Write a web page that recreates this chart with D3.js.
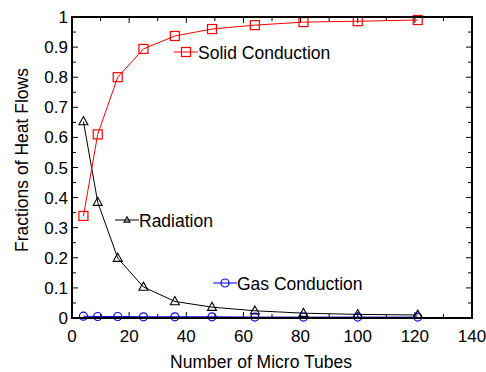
<!DOCTYPE html>
<html>
<head>
<meta charset="utf-8">
<script src="https://cdn.jsdelivr.net/npm/d3@7"></script>
<style>
  body { margin: 0; background: #fff; }
  svg { display: block; font-family: Arial, "Liberation Sans", sans-serif; }
</style>
</head>
<body>
<div id="chart"></div>
<script>
// number of micro tubes (same for every series)
const tubes = [4, 9, 16, 25, 36, 49, 64, 81, 100, 121];
const solidConduction = [0.339, 0.61, 0.80, 0.894, 0.937, 0.96, 0.973, 0.983, 0.986, 0.99];
const radiation = [0.653, 0.385, 0.199, 0.103, 0.055, 0.036, 0.024, 0.016, 0.012, 0.010];
const gasConduction = [0.006, 0.005, 0.005, 0.004, 0.004, 0.004, 0.003, 0.003, 0.003, 0.003];
const xTicks = [0, 20, 40, 60, 80, 100, 120, 140];
const yTicks = [0, 0.1, 0.2, 0.3, 0.4, 0.5, 0.6, 0.7, 0.8, 0.9, 1];

const width = 486, height = 372;
const margin = {top: 17, right: 14, bottom: 54, left: 72};

const svg = d3.select("#chart").append("svg")
    .attr("width", width)
    .attr("height", height);

const x = d3.scaleLinear().domain([0, 140]).range([margin.left, width - margin.right]);
const y = d3.scaleLinear().domain([0, 1]).range([height - margin.bottom, margin.top]);

// ticks all around, pointing inwards
const minorX = d3.range(0, 141, 10), minorY = d3.range(0, 1.001, 0.05);
const g = svg.append("g").attr("stroke", "#000").attr("stroke-width", 1);
minorX.forEach(v => {
    const len = v % 20 === 0 ? 6 : 4;
    g.append("line").attr("x1", x(v)).attr("x2", x(v)).attr("y1", y(0)).attr("y2", y(0) - len);
    g.append("line").attr("x1", x(v)).attr("x2", x(v)).attr("y1", y(1)).attr("y2", y(1) + len);
});
minorY.forEach((v, i) => {
    const len = i % 2 === 0 ? 6 : 4;
    g.append("line").attr("y1", y(v)).attr("y2", y(v)).attr("x1", x(0)).attr("x2", x(0) + len);
    g.append("line").attr("y1", y(v)).attr("y2", y(v)).attr("x1", x(140)).attr("x2", x(140) - len);
});

svg.append("g").selectAll("text").data(xTicks).enter().append("text")
    .attr("x", d => x(d)).attr("y", 342)
    .attr("text-anchor", "middle").style("font-size", "17px")
    .text(d => d);
svg.append("g").selectAll("text").data(yTicks).enter().append("text")
    .attr("x", 68).attr("y", d => y(d) + 6)
    .attr("text-anchor", "end").style("font-size", "17px")
    .text(d => d === 0 || d === 1 ? d : d.toFixed(1));

svg.append("text").attr("x", 261).attr("y", 368)
    .attr("text-anchor", "middle").style("font-size", "17.5px")
    .text("Number of Micro Tubes");
svg.append("text").attr("transform", "translate(28,160)rotate(-90)")
    .attr("text-anchor", "middle").style("font-size", "17.5px")
    .text("Fractions of Heat Flows");

const line = d3.line().x((d, i) => x(tubes[i])).y(d => y(d));

function square(sel, cx, cy, s, color) {
    sel.append("rect").attr("x", cx - s / 2).attr("y", cy - s / 2)
        .attr("width", s).attr("height", s)
        .attr("fill", "none").attr("stroke", color).attr("stroke-width", 1.2);
}
function triangle(sel, cx, cy, s, color) {
    const h = s * 0.9;
    sel.append("path")
        .attr("d", `M${cx},${cy - h * 0.6}L${cx + s / 2},${cy + h * 0.4}L${cx - s / 2},${cy + h * 0.4}Z`)
        .attr("fill", "none").attr("stroke", color).attr("stroke-width", 1.1);
}
function circle(sel, cx, cy, r, color) {
    sel.append("circle").attr("cx", cx).attr("cy", cy).attr("r", r)
        .attr("fill", "none").attr("stroke", color).attr("stroke-width", 1.2);
}

const series = [
    {values: gasConduction, color: "#0000ff", marker: (s, cx, cy) => circle(s, cx, cy, 4, "#0000ff")},
    {values: radiation, color: "#000000", marker: (s, cx, cy) => triangle(s, cx, cy, 9, "#000")},
    {values: solidConduction, color: "#ff0000", marker: (s, cx, cy) => square(s, cx, cy, 9, "#ff0000")}
];
series.forEach(sr => {
    const sg = svg.append("g");
    sg.append("path").attr("d", line(sr.values))
        .attr("fill", "none").attr("stroke", sr.color).attr("stroke-width", 1);
    sr.values.forEach((v, i) => sr.marker(sg, x(tubes[i]), y(v)));
});

// frame
svg.append("rect").attr("x", x(0)).attr("y", y(1))
    .attr("width", x(140) - x(0)).attr("height", y(0) - y(1))
    .attr("fill", "none").attr("stroke", "#000").attr("stroke-width", 2);

// inline labels
const labels = [
    {text: "Solid Conduction", lx: 174, ly: 52, color: "#ff0000", draw: (s, cx, cy) => square(s, cx, cy, 9, "#ff0000")},
    {text: "Radiation", lx: 115, ly: 220, color: "#000", draw: (s, cx, cy) => triangle(s, cx, cy, 6, "#000")},
    {text: "Gas Conduction", lx: 213, ly: 283, color: "#0000ff", draw: (s, cx, cy) => circle(s, cx, cy, 4, "#0000ff")}
];
labels.forEach(l => {
    const lg = svg.append("g");
    lg.append("line").attr("x1", l.lx).attr("x2", l.lx + 24).attr("y1", l.ly).attr("y2", l.ly)
        .attr("stroke", l.color).attr("stroke-width", 1);
    l.draw(lg, l.lx + 12, l.ly);
    lg.append("text").attr("x", l.lx + 24).attr("y", l.ly + 7)
        .style("font-size", "17.5px").text(l.text);
});
</script>
</body>
</html>
